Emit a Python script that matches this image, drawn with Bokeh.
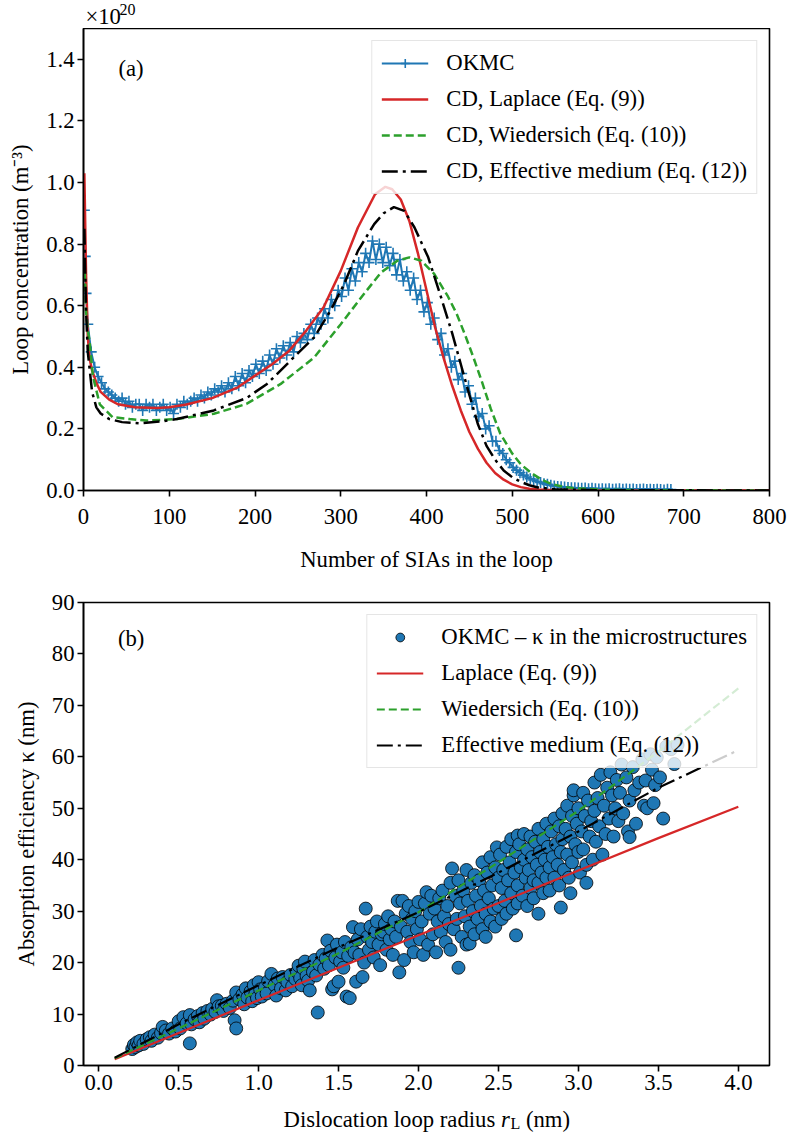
from bokeh.plotting import figure
from bokeh.layouts import column
from bokeh.models import Range1d, FixedTicker, PrintfTickFormatter, Legend, LegendItem, Label
from bokeh.embed import file_html
from bokeh.resources import INLINE

FONT = "Liberation Serif"
FS = "22.7px"
BLUE = "#1f77b4"
RED = "#d62728"
GREEN = "#2ca02c"

# ---------------- panel (a) data (concentration in units of 1e20 m^-3) -------------
okmc_x = [1, 2, 3] + list(range(5, 686, 4))
okmc_y = [0.91, 0.76, 0.64,
          0.54, 0.45, 0.40, 0.37, 0.35, 0.33, 0.32, 0.31, 0.30, 0.29,
          0.30, 0.28, 0.29, 0.27, 0.28, 0.28, 0.26, 0.28, 0.27, 0.28,
          0.26, 0.27, 0.28, 0.26, 0.27, 0.25, 0.28, 0.27, 0.29, 0.28,
          0.29, 0.30, 0.29, 0.31, 0.30, 0.32, 0.31, 0.33, 0.32, 0.34,
          0.32, 0.35, 0.33, 0.37, 0.34, 0.38, 0.35, 0.39, 0.37, 0.41,
          0.38, 0.42, 0.39, 0.44, 0.41, 0.46, 0.43, 0.47, 0.44, 0.48,
          0.45, 0.50, 0.48, 0.51, 0.49, 0.54, 0.51, 0.56, 0.54, 0.59,
          0.56, 0.62, 0.60, 0.65, 0.63, 0.69, 0.65, 0.72, 0.68, 0.74,
          0.71, 0.77, 0.74, 0.81, 0.75, 0.80, 0.74, 0.79, 0.73, 0.77,
          0.70, 0.75, 0.68, 0.71, 0.65, 0.69, 0.62, 0.65, 0.58, 0.61,
          0.54, 0.56, 0.49, 0.51, 0.44, 0.46, 0.40, 0.42, 0.36, 0.38,
          0.32, 0.34, 0.28, 0.30, 0.24, 0.25, 0.20, 0.21, 0.16, 0.16,
          0.13, 0.12, 0.10, 0.09, 0.075, 0.066, 0.058, 0.05, 0.044, 0.038,
          0.034, 0.029, 0.026, 0.022, 0.02, 0.017, 0.015, 0.013, 0.012, 0.011,
          0.010, 0.009, 0.009, 0.008, 0.007, 0.008, 0.006, 0.007, 0.006, 0.005,
          0.006, 0.005, 0.006, 0.004, 0.005, 0.006, 0.004, 0.005, 0.004, 0.005,
          0.003, 0.004, 0.005, 0.003, 0.004, 0.003, 0.004, 0.003, 0.002, 0.004,
          0.003]

lap_x = [1, 3, 5, 7, 10, 15, 20, 30, 40, 60,
         86, 100, 120, 150, 180, 200, 220, 240, 260, 280,
         300, 320, 340, 352, 360, 370, 380, 390, 400, 410,
         420, 430, 440, 450, 460, 470, 480, 490, 500, 510,
         520, 530, 550, 600, 800]
lap_y = [1.03, 0.70, 0.50, 0.43, 0.39, 0.35, 0.32, 0.295, 0.28, 0.27,
         0.268, 0.27, 0.279, 0.30, 0.335, 0.373, 0.41, 0.454, 0.52, 0.595,
         0.713, 0.854, 0.962, 0.986, 0.978, 0.945, 0.875, 0.77, 0.65, 0.53,
         0.43, 0.34, 0.26, 0.19, 0.135, 0.09, 0.057, 0.035, 0.02, 0.011,
         0.006, 0.003, 0.001, 0.0, 0.0]

wied_x = [1, 3, 5, 7, 11, 19, 34, 54, 73, 109,
          152, 190, 230, 269, 300, 327, 347, 366, 380, 394,
          409, 425, 435, 445, 455, 465, 475, 486, 500, 510,
          523, 535, 545, 558, 570, 600, 650, 800]
wied_y = [0.75, 0.58, 0.52, 0.486, 0.37, 0.28, 0.238, 0.232, 0.227, 0.232,
          0.249, 0.281, 0.346, 0.432, 0.54, 0.638, 0.708, 0.746, 0.757, 0.746,
          0.703, 0.63, 0.575, 0.505, 0.43, 0.35, 0.265, 0.185, 0.12, 0.085,
          0.055, 0.034, 0.022, 0.013, 0.008, 0.003, 0.001, 0.0]

eff_x = [1, 3, 5, 10, 15, 20, 30, 45, 66, 90,
         109, 152, 190, 214, 230, 249, 269, 288, 304, 320,
         339, 350, 362, 374, 386, 402, 417, 430, 440, 450,
         460, 470, 480, 490, 500, 510, 520, 530, 550, 600,
         800]
eff_y = [0.85, 0.58, 0.45, 0.32, 0.27, 0.25, 0.232, 0.222, 0.218, 0.224,
         0.232, 0.26, 0.30, 0.346, 0.39, 0.443, 0.497, 0.584, 0.67, 0.778,
         0.865, 0.90, 0.92, 0.908, 0.854, 0.757, 0.627, 0.51, 0.41, 0.31,
         0.215, 0.145, 0.10, 0.065, 0.043, 0.028, 0.017, 0.01, 0.004, 0.001,
         0.0]

# ---------------- panel (b) data -------------
r_a = [0.21, 0.22, 0.23, 0.24, 0.25, 0.26, 0.28, 0.30, 0.32, 0.33, 0.35, 0.37, 0.39, 0.40, 0.42, 0.44, 0.46, 0.48]
k_a = [3.2, 4.0, 3.6, 4.5, 3.9, 4.8, 4.2, 5.1, 5.5, 4.8, 6.0, 5.4, 6.3, 7.5, 6.8, 6.2, 7.2, 6.6]
r_b = [0.50, 0.51, 0.53, 0.55, 0.57, 0.57, 0.58, 0.60, 0.62, 0.63, 0.65, 0.66, 0.68, 0.70, 0.71, 0.73, 0.74, 0.75]
k_b = [8.6, 7.2, 9.4, 8.2, 4.3, 9.8, 8.0, 9.0, 9.6, 8.4, 10.2, 9.1, 10.6, 9.9, 11.0, 10.4, 12.7, 11.5]
r_c = [0.77, 0.78, 0.80, 0.82, 0.84, 0.85, 0.86, 0.86, 0.88, 0.90, 0.91, 0.92, 0.93, 0.95, 0.96, 0.97, 0.98, 0.99, 1.00, 1.01]
k_c = [11.6, 10.6, 12.0, 11.2, 12.6, 8.8, 7.2, 14.2, 12.9, 13.8, 11.9, 15.0, 13.2, 14.4, 12.5, 15.6, 14.0, 13.1, 16.2, 14.8]
r_d = [1.02, 1.04, 1.05, 1.06, 1.08, 1.10, 1.11, 1.12, 1.14, 1.15, 1.17, 1.18, 1.20, 1.21, 1.23, 1.24, 1.25, 1.26, 1.27, 1.28, 1.29, 1.30]
k_d = [13.4, 15.2, 14.0, 16.4, 17.8, 15.6, 13.6, 16.9, 15.0, 17.2, 14.6, 16.2, 17.6, 15.4, 16.8, 18.2, 19.4, 17.0, 15.6, 18.8, 20.2, 17.4]
r_e = [1.31, 1.32, 1.34, 1.35, 1.36, 1.37, 1.38, 1.40, 1.41, 1.42, 1.43, 1.44, 1.45, 1.46, 1.47, 1.48, 1.49, 1.50, 1.51, 1.52, 1.53, 1.54, 1.55, 1.56, 1.57, 1.58, 1.59]
k_e = [16.5, 14.6, 18.2, 20.5, 17.5, 10.3, 19.6, 21.5, 18.8, 20.8, 24.3, 19.5, 22.3, 14.8, 15.4, 21.0, 23.5, 16.3, 20.2, 22.0, 19.0, 24.0, 13.4, 21.3, 13.1, 23.0, 26.9]
r_f = [1.60, 1.61, 1.62, 1.63, 1.64, 1.65, 1.66, 1.67, 1.68, 1.69, 1.70, 1.71, 1.72, 1.73, 1.74, 1.75, 1.76, 1.77, 1.78, 1.79, 1.80, 1.81, 1.82, 1.83, 1.84, 1.85, 1.86, 1.87, 1.88, 1.89]
k_f = [22.0, 16.3, 24.5, 21.5, 26.5, 17.2, 20.0, 30.5, 25.0, 22.5, 27.0, 24.0, 21.0, 26.0, 28.0, 23.5, 19.5, 25.5, 26.0, 27.5, 22.5, 29.0, 24.5, 26.5, 21.5, 28.0, 25.0, 32.0, 18.1, 27.0]
r_g = [1.90, 1.91, 1.92, 1.93, 1.94, 1.95, 1.96, 1.97, 1.98, 1.99, 2.00, 2.01, 2.02, 2.03, 2.04, 2.05, 2.06, 2.07, 2.08, 2.09,
       2.10, 2.11, 2.12, 2.13, 2.14, 2.15, 2.16, 2.17, 2.18, 2.19, 2.20, 2.20, 2.21, 2.22, 2.23]
k_g = [32.0, 20.5, 29.5, 26.0, 31.0, 24.0, 28.5, 22.0, 30.0, 26.5, 31.8, 24.5, 28.0, 21.5, 31.5, 33.7, 23.5, 29.5, 33.0, 25.5,
       30.5, 22.0, 28.0, 32.5, 26.0, 34.0, 29.0, 24.0, 31.0, 27.5, 35.5, 22.5, 38.3, 26.5, 33.0]
r_h = [2.24, 2.25, 2.25, 2.26, 2.27, 2.28, 2.29, 2.30, 2.30, 2.31, 2.32, 2.32, 2.33, 2.34, 2.35, 2.35, 2.36, 2.37, 2.38, 2.39,
       2.40, 2.40, 2.41, 2.42, 2.42, 2.43, 2.44, 2.45, 2.45, 2.46, 2.47, 2.48, 2.48, 2.49, 2.50, 2.50]
k_h = [28.5, 19.0, 36.0, 31.5, 25.0, 34.0, 29.0, 38.0, 23.5, 32.0, 27.0, 23.7, 35.5, 30.0, 25.5, 37.0, 33.0, 28.5, 36.0, 31.0,
       26.5, 39.5, 34.0, 25.0, 29.5, 37.5, 32.5, 28.0, 40.5, 35.0, 30.5, 38.5, 27.0, 42.4, 36.5, 31.0]
r_i = [2.51, 2.52, 2.52, 2.53, 2.54, 2.55, 2.55, 2.56, 2.57, 2.58, 2.58, 2.59, 2.60, 2.61, 2.61, 2.62, 2.62, 2.62, 2.63, 2.64,
       2.65, 2.66, 2.66, 2.67, 2.68, 2.68, 2.69, 2.70, 2.70, 2.71, 2.72, 2.72, 2.73, 2.74, 2.75, 2.75, 2.75, 2.76, 2.77, 2.78,
       2.78, 2.79, 2.80, 2.80]
k_i = [41.0, 28.5, 34.5, 38.0, 32.0, 42.5, 29.5, 36.0, 39.5, 33.5, 44.0, 30.5, 37.5, 41.5, 25.3, 35.0, 31.5, 44.7, 43.0, 38.5,
       33.0, 40.0, 45.0, 36.5, 31.0, 42.0, 38.0, 34.5, 44.5, 40.5, 36.0, 32.5, 43.5, 39.0, 46.0, 35.5, 29.5, 41.5, 37.5, 33.5,
       44.0, 40.0, 47.0, 36.5]
r_j = [2.81, 2.82, 2.82, 2.83, 2.84, 2.85, 2.85, 2.86, 2.87, 2.88, 2.88, 2.89, 2.89, 2.90, 2.90, 2.91, 2.92, 2.93, 2.93, 2.94,
       2.95, 2.95, 2.96, 2.96, 2.97, 2.97, 2.98, 2.99, 3.00, 3.00, 3.01, 3.02, 3.03, 3.03, 3.04, 3.05, 3.05, 3.06, 3.07, 3.08,
       3.09, 3.10, 3.10]
k_j = [42.5, 38.5, 34.0, 45.5, 40.5, 48.0, 36.5, 43.0, 39.0, 46.5, 35.0, 41.5, 30.7, 49.0, 44.0, 38.0, 46.0, 41.0, 50.5, 36.5,
       44.5, 33.5, 48.5, 39.5, 52.5, 53.5, 43.0, 47.0, 41.5, 50.0, 37.5, 45.5, 53.0, 42.0, 48.5, 39.0, 35.5, 51.5, 44.5, 47.5,
       40.0, 55.0, 49.5]
r_k = [3.11, 3.12, 3.13, 3.14, 3.15, 3.16, 3.17, 3.18, 3.19, 3.20, 3.21, 3.22, 3.23, 3.24, 3.25, 3.26, 3.27, 3.28, 3.30, 3.31,
       3.32, 3.32, 3.34, 3.35, 3.36, 3.38]
k_k = [43.5, 52.0, 46.5, 56.5, 41.0, 50.5, 45.0, 54.0, 48.0, 57.0, 52.5, 44.5, 50.0, 55.5, 47.5, 53.0, 58.5, 49.0, 56.0, 45.5,
       51.5, 44.4, 58.0, 53.5, 47.0, 55.0]
r_l = [3.40, 3.41, 3.42, 3.43, 3.45, 3.46, 3.47, 3.48, 3.49, 3.51, 3.53, 3.55, 3.58, 3.60, 3.62]
k_l = [59.5, 50.5, 55.4, 50.0, 60.5, 57.5, 51.0, 54.5, 59.9, 56.0, 48.0, 62.0, 61.5, 58.6, 62.3]

r_groups = [r_a, r_b, r_c, r_d, r_e, r_f, r_g, r_h, r_i, r_j, r_k, r_l]
k_groups = [k_a, k_b, k_c, k_d, k_e, k_f, k_g, k_h, k_i, k_j, k_k, k_l]
r_loop, k_loop = [], []
for rr, kk in zip(r_groups, k_groups):
    n = min(len(rr), len(kk))
    r_loop += rr[:n]
    k_loop += kk[:n]

line_r = [0.1, 0.5, 1.0, 1.5, 2.0, 2.5, 3.0, 3.5, 4.0]
lap_k = [1.2, 6.3, 12.7, 19.0, 25.3, 31.6, 37.9, 44.2, 50.3]
wied_k = [1.4, 7.2, 14.6, 21.8, 29.8, 39.5, 49.5, 61.0, 73.3]
eff_k = [1.5, 8.0, 15.6, 23.0, 29.8, 37.5, 45.5, 54.0, 61.3]

x_ticks_a = [0, 100, 200, 300, 400, 500, 600, 700, 800]
y_ticks_a = [0.0, 0.2, 0.4, 0.6, 0.8, 1.0, 1.2, 1.4]
x_ticks_b = [0.0, 0.5, 1.0, 1.5, 2.0, 2.5, 3.0, 3.5, 4.0]
y_ticks_b = [0, 10, 20, 30, 40, 50, 60, 70, 80, 90]

W = 790
BL = 83   # frame starts at page x = 83
BR = 21   # frame ends at page x = 769
XA = (0, 800)
XB = (-0.095, 4.195)


def style(p, xt, yt, xfmt=None, yfmt=None, xstand=3):
    p.xgrid.grid_line_color = None
    p.ygrid.grid_line_color = None
    p.outline_line_color = "black"
    p.outline_line_width = 1.6
    p.outline_line_alpha = 1.0
    for ax in [p.xaxis[0], p.yaxis[0]]:
        ax.axis_line_color = "black"
        ax.axis_line_width = 1.6
        ax.major_tick_line_color = "black"
        ax.major_tick_line_width = 1.6
        ax.major_tick_out = 6
        ax.major_tick_in = 0
        ax.minor_tick_out = 0
        ax.minor_tick_in = 0
        ax.major_label_text_font = FONT
        ax.major_label_text_font_size = FS
        ax.major_label_text_color = "black"
        ax.major_label_standoff = 3
        ax.axis_label_text_font = FONT
        ax.axis_label_text_font_size = FS
        ax.axis_label_text_font_style = "normal"
        ax.axis_label_text_color = "black"
    p.xaxis[0].major_label_standoff = xstand
    p.xaxis[0].ticker = FixedTicker(ticks=xt)
    p.yaxis[0].ticker = FixedTicker(ticks=yt)
    if xfmt:
        p.xaxis[0].formatter = PrintfTickFormatter(format=xfmt)
    if yfmt:
        p.yaxis[0].formatter = PrintfTickFormatter(format=yfmt)
    p.yaxis[0].axis_label_standoff = 10
    p.xaxis[0].axis_label_standoff = 20


def legend(items):
    lg = Legend(items=items, location="top_right")
    lg.label_text_font = FONT
    lg.label_text_font_size = FS
    lg.label_text_color = "black"
    lg.glyph_width = 47
    lg.glyph_height = 22
    lg.label_height = 22
    lg.label_standoff = 18
    lg.spacing = 10
    lg.padding = 9
    lg.margin = 12
    lg.border_line_color = "#cccccc"
    lg.border_line_width = 1.5
    lg.background_fill_color = "white"
    lg.background_fill_alpha = 0.8
    return lg


def lab(p, x, y, text, size=FS, style_="normal"):
    p.add_layout(Label(x=x, y=y, text=text, text_font=FONT, text_font_size=size,
                       text_font_style=style_, text_color="black",
                       text_baseline="alphabetic", text_align="left"))


def strip(h, xr):
    s = figure(width=W, height=h, x_range=Range1d(*xr), y_range=Range1d(0, h),
               x_axis_type=None, y_axis_type=None, output_backend="svg", toolbar_location=None,
               min_border_left=BL, min_border_right=BR, min_border_top=0, min_border_bottom=0)
    s.outline_line_color = None
    s.grid.visible = False
    return s


# ---------------- strip above (a): x10^20 multiplier ----------------
p0 = strip(28, XA)
lab(p0, 2.3, 12, "\u00d710")
lab(p0, 42.0, 19.5, "20", size="16px")

# ---------------- figure (a) ----------------
p1 = figure(width=W, height=553, x_range=Range1d(*XA), y_range=Range1d(0, 1.5),
            output_backend="svg", toolbar_location=None,
            min_border_left=BL, min_border_right=BR, min_border_top=0, min_border_bottom=91)
style(p1, x_ticks_a, y_ticks_a, None, "%.1f", xstand=12)
p1.xaxis[0].axis_label = "Number of SIAs in the loop"
p1.yaxis[0].axis_label = "Loop concentration (m\u207b\u00b3)"

r_ok_line = p1.line(okmc_x, okmc_y, line_color=BLUE, line_width=2.0)
r_ok_pts = p1.scatter(okmc_x, okmc_y, marker="cross", size=11, line_color=BLUE, line_width=1.6)
r_lap = p1.line(lap_x, lap_y, line_color=RED, line_width=2.5)
r_wied = p1.line(wied_x, wied_y, line_color=GREEN, line_width=2.5, line_dash="8 4")
r_eff = p1.line(eff_x, eff_y, line_color="black", line_width=2.5, line_dash="16 5 3 5")

p1.add_layout(legend([
    LegendItem(label="OKMC", renderers=[r_ok_line, r_ok_pts]),
    LegendItem(label="CD, Laplace (Eq. (9))", renderers=[r_lap]),
    LegendItem(label="CD, Wiedersich (Eq. (10))", renderers=[r_wied]),
    LegendItem(label="CD, Effective medium (Eq. (12))", renderers=[r_eff]),
]))
lab(p1, 40.8, 1.370, "(a)")

# ---------------- figure (b) ----------------
p2 = figure(width=W, height=522, x_range=Range1d(*XB), y_range=Range1d(0, 90),
            output_backend="svg", toolbar_location=None,
            min_border_left=BL, min_border_right=BR, min_border_top=21, min_border_bottom=38)
style(p2, x_ticks_b, y_ticks_b, "%.1f", None, xstand=3)
p2.yaxis[0].axis_label = "Absorption efficiency \u03ba (nm)"

r_sc = p2.scatter(r_loop, k_loop, marker="circle", size=13, fill_color=BLUE,
                  line_color="black", line_width=0.8)
r_lap2 = p2.line(line_r, lap_k, line_color=RED, line_width=2.2)
r_wied2 = p2.line(line_r, wied_k, line_color=GREEN, line_width=2.2, line_dash="8 4")
r_eff2 = p2.line(line_r, eff_k, line_color="black", line_width=2.2, line_dash="16 5 3 5")

p2.add_layout(legend([
    LegendItem(label="OKMC \u2013 \u03ba in the microstructures", renderers=[r_sc]),
    LegendItem(label="Laplace (Eq. (9))", renderers=[r_lap2]),
    LegendItem(label="Wiedersich (Eq. (10))", renderers=[r_wied2]),
    LegendItem(label="Effective medium (Eq. (12))", renderers=[r_eff2]),
]))
lab(p2, 0.12, 83.0, "(b)")

# ---------------- strip below (b): x-axis title with italic r and subscript L ----------------
p3 = strip(37, XB)
lab(p3, 1.1557, 21, "Dislocation loop radius")
lab(p3, 2.5166, 21, "r", style_="italic")
lab(p3, 2.5748, 17.5, "L", size="16px")
lab(p3, 2.6717, 21, "(nm)")

layout = column(p0, p1, p2, p3)
open("out.html", "w").write(file_html(layout, INLINE))
